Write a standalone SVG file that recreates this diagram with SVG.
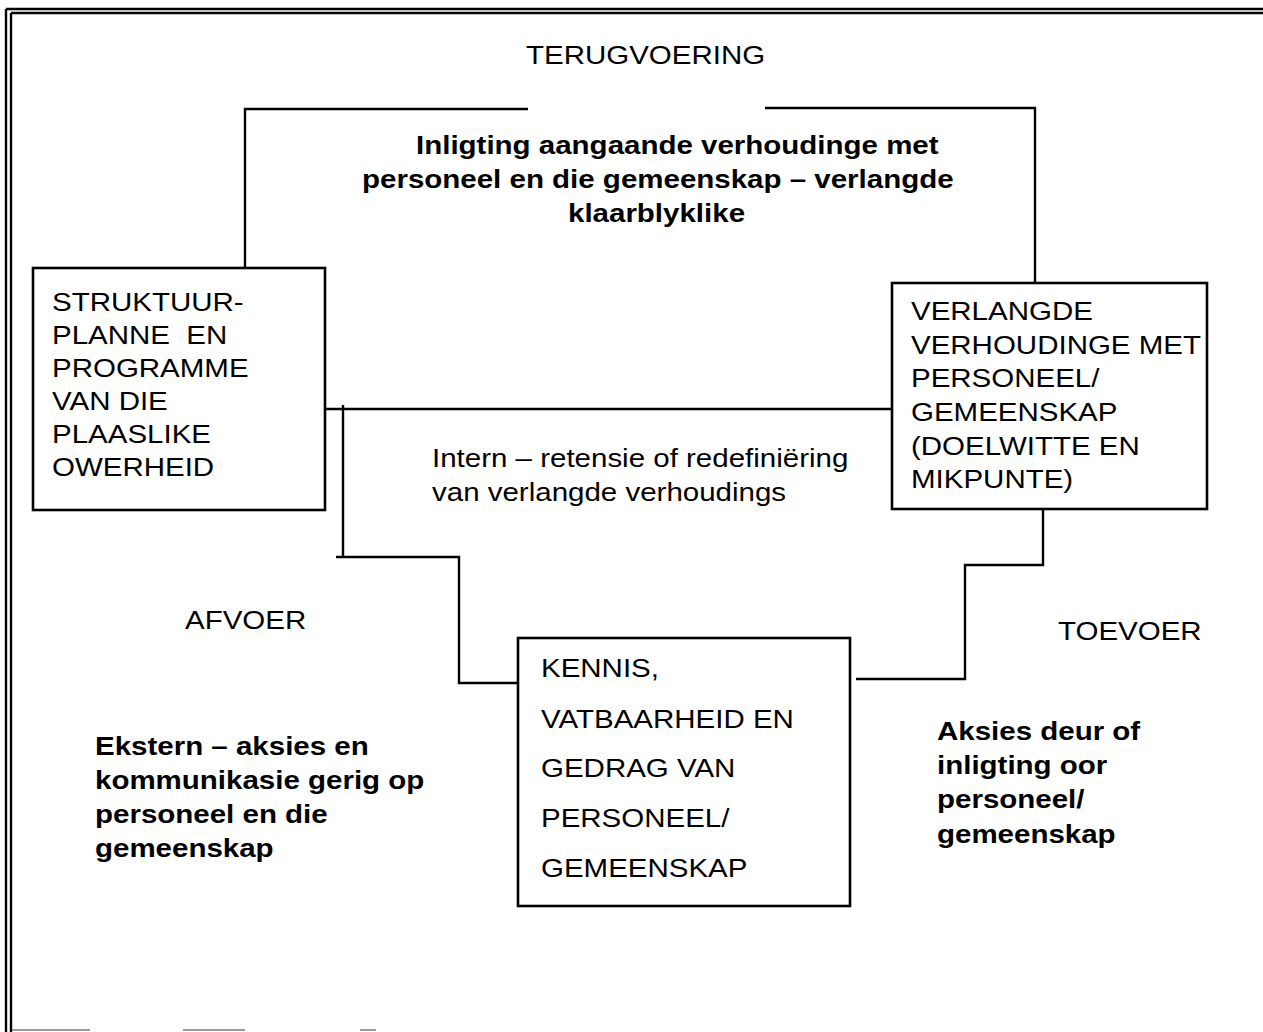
<svg xmlns="http://www.w3.org/2000/svg" width="1263" height="1032" viewBox="0 0 1263 1032">
  <style>
    .frame { fill: none; stroke: #000; stroke-width: 2.4; }
    .box { fill: #fff; stroke: #000; stroke-width: 2.6; }
    .wire { fill: none; stroke: #000; stroke-width: 2.4; stroke-linejoin: miter; }
    .t { font-family: "Liberation Sans", Arial, sans-serif; font-size: 25px; fill: #000; }
    .b { font-weight: bold; }
  </style>

  <rect width="1263" height="1032" fill="#fff"/>

  <!-- page frame -->
  <g id="frame">
    <line class="frame" x1="6" y1="9" x2="1263" y2="9"/>
    <line class="frame" x1="11" y1="13" x2="1263" y2="13"/>
    <line class="frame" x1="6" y1="9" x2="6" y2="1032" stroke-width="4"/>
    <line class="frame" x1="11" y1="13" x2="11" y2="1032" stroke-width="2.6"/>
    <g stroke="#999" stroke-width="2">
      <line x1="12" y1="1030" x2="90" y2="1030"/>
      <line x1="183" y1="1030" x2="245" y2="1030"/>
      <line x1="360" y1="1030" x2="376" y2="1030"/>
    </g>
  </g>

  <!-- connectors -->
  <g id="connectors">
    <polyline class="wire" points="245,268 245,109 528,109"/>
    <polyline class="wire" points="765,108 1035,108 1035,283"/>
    <line class="wire" x1="325" y1="409" x2="892" y2="409"/>
    <line class="wire" x1="343" y1="405" x2="343" y2="558"/>
    <polyline class="wire" points="336,557 459,557 459,683 518,683"/>
    <polyline class="wire" points="1043,509 1043,565 965,565 965,679 856,679"/>
  </g>

  <!-- connector labels -->
  <g id="labels">
    <g transform="translate(526 0) scale(1.18 1)">
      <text class="t" x="0" y="64">TERUGVOERING</text>
    </g>
    <g transform="translate(416 0) scale(1.18 1)">
      <text class="t b" x="0" y="154">Inligting aangaande verhoudinge met</text>
    </g>
    <g transform="translate(362 0) scale(1.18 1)">
      <text class="t b" x="0" y="188">personeel en die gemeenskap – verlangde</text>
    </g>
    <g transform="translate(568 0) scale(1.18 1)">
      <text class="t b" x="0" y="222">klaarblyklike</text>
    </g>
    <g transform="translate(432 0) scale(1.18 1)">
      <text class="t" x="0" y="467">Intern – retensie of redefiniëring</text>
      <text class="t" x="0" y="501">van verlangde verhoudings</text>
    </g>
    <g transform="translate(185 0) scale(1.18 1)">
      <text class="t" x="0" y="629">AFVOER</text>
    </g>
    <g transform="translate(1058 0) scale(1.18 1)">
      <text class="t" x="0" y="640">TOEVOER</text>
    </g>
    <g transform="translate(95 0) scale(1.18 1)">
      <text class="t b" x="0" y="755">Ekstern – aksies en</text>
      <text class="t b" x="0" y="789">kommunikasie gerig op</text>
      <text class="t b" x="0" y="823">personeel en die</text>
      <text class="t b" x="0" y="857">gemeenskap</text>
    </g>
    <g transform="translate(937 0) scale(1.18 1)">
      <text class="t b" x="0" y="740">Aksies deur of</text>
      <text class="t b" x="0" y="774">inligting oor</text>
      <text class="t b" x="0" y="808">personeel/</text>
      <text class="t b" x="0" y="843">gemeenskap</text>
    </g>
  </g>

  <!-- structure plans node -->
  <g id="node-struktuur">
    <rect class="box" x="33" y="268" width="292" height="242"/>
    <g transform="translate(52 0) scale(1.18 1)">
      <text class="t" x="0" y="311">STRUKTUUR-</text>
      <text class="t" x="0" y="344">PLANNE&#160; EN</text>
      <text class="t" x="0" y="377">PROGRAMME</text>
      <text class="t" x="0" y="410">VAN DIE</text>
      <text class="t" x="0" y="443">PLAASLIKE</text>
      <text class="t" x="0" y="476">OWERHEID</text>
    </g>
  </g>

  <!-- desired relationships node -->
  <g id="node-verlangde">
    <rect class="box" x="892" y="283" width="315" height="226"/>
    <g transform="translate(911 0) scale(1.18 1)">
      <text class="t" x="0" y="320">VERLANGDE</text>
      <text class="t" x="0" y="354">VERHOUDINGE MET</text>
      <text class="t" x="0" y="387">PERSONEEL/</text>
      <text class="t" x="0" y="421">GEMEENSKAP</text>
      <text class="t" x="0" y="455">(DOELWITTE EN</text>
      <text class="t" x="0" y="488">MIKPUNTE)</text>
    </g>
  </g>

  <!-- knowledge / behaviour node -->
  <g id="node-kennis">
    <rect class="box" x="518" y="638" width="332" height="268"/>
    <g transform="translate(541 0) scale(1.18 1)">
      <text class="t" x="0" y="677">KENNIS,</text>
      <text class="t" x="0" y="728">VATBAARHEID EN</text>
      <text class="t" x="0" y="777">GEDRAG VAN</text>
      <text class="t" x="0" y="827">PERSONEEL/</text>
      <text class="t" x="0" y="877">GEMEENSKAP</text>
    </g>
  </g>
</svg>
